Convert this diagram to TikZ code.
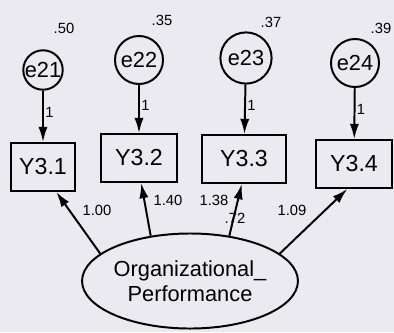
\documentclass[tikz,border=0pt]{standalone}
\usepackage{fontspec}
\setmainfont{Liberation Sans}
\usepackage{tikz}
\usetikzlibrary{shapes,arrows,positioning,calc,arrows.meta}
\definecolor{paper}{RGB}{234,234,240}

\begin{document}
\begin{tikzpicture}[x=0.025cm,y=-0.025cm,
    errc/.style={circle,draw,line width=1.4pt,inner sep=0pt,minimum size=1.2cm,font=\fontsize{15.5}{17}\selectfont},
    ind/.style={rectangle,draw,line width=1.4pt,inner sep=2pt,minimum height=1.2cm,font=\fontsize{16.5}{19}\selectfont},
    lat/.style={ellipse,draw,line width=1.4pt,inner sep=0pt,minimum width=4.1cm,minimum height=2.375cm,align=center,font=\fontsize{15.5}{17.5}\selectfont},
    arr/.style={-{Latex[length=3.8mm,width=2.3mm]},line width=1.4pt},
    num/.style={font=\fontsize{10.5}{12}\selectfont,inner sep=1pt}]
    % Canvas
    \useasboundingbox (0,0) rectangle (394,332);
    \fill[paper] (0,0) rectangle (394,332);

    % Error terms
    \node[errc, minimum size=0.98cm] (e21) at (43,70) {e21};
    \node[errc] (e22) at (139,60) {e22};
    \node[errc, minimum size=1.28cm] (e23) at (246,58) {e23};
    \node[errc] (e24) at (355,63) {e24};

    % Variances
    \node[num] (v21) at (64,28) {.50};
    \node[num] (v22) at (162,20) {.35};
    \node[num] (v23) at (271,22) {.37};
    \node[num] (v24) at (381,28) {.39};

    % Indicators
    \node[ind, minimum width=1.6cm] (y31) at (43,167) {Y3.1};
    \node[ind, minimum width=1.9cm] (y32) at (139,158) {Y3.2};
    \node[ind, minimum width=2.1cm] (y33) at (244,159) {Y3.3};
    \node[ind, minimum width=1.9cm] (y34) at (354,164) {Y3.4};

    % Latent factor
    \node[lat] (org) at (190,281) {Organizational\_\\Performance};

    % Error paths
    \draw[arr] (e21) -- (y31) node[num, pos=0.42, right] {1};
    \draw[arr] (e22) -- (y32) node[num, pos=0.42, right] {1};
    \draw[arr] (e23) -- (y33) node[num, pos=0.42, right] {1};
    \draw[arr] (e24) -- (y34) node[num, pos=0.42, right] {1};

    % Loadings
    \draw[arr] (org.163) -- (y31.-62);
    \draw[arr] (org.131) -- (y32.-85);
    \draw[arr] (org.49) -- (y33.-95);
    \draw[arr] (org.17) -- (y34.-105);

    % Loading values
    \node[num] (l31) at (97,210) {1.00};
    \node[num] (l32) at (168,200) {1.40};
    \node[num] (l33) at (214,200) {1.38};
    \node[num] (r2) at (235,218) {.72};
    \node[num] (l34) at (292,210) {1.09};
\end{tikzpicture}
\end{document}
